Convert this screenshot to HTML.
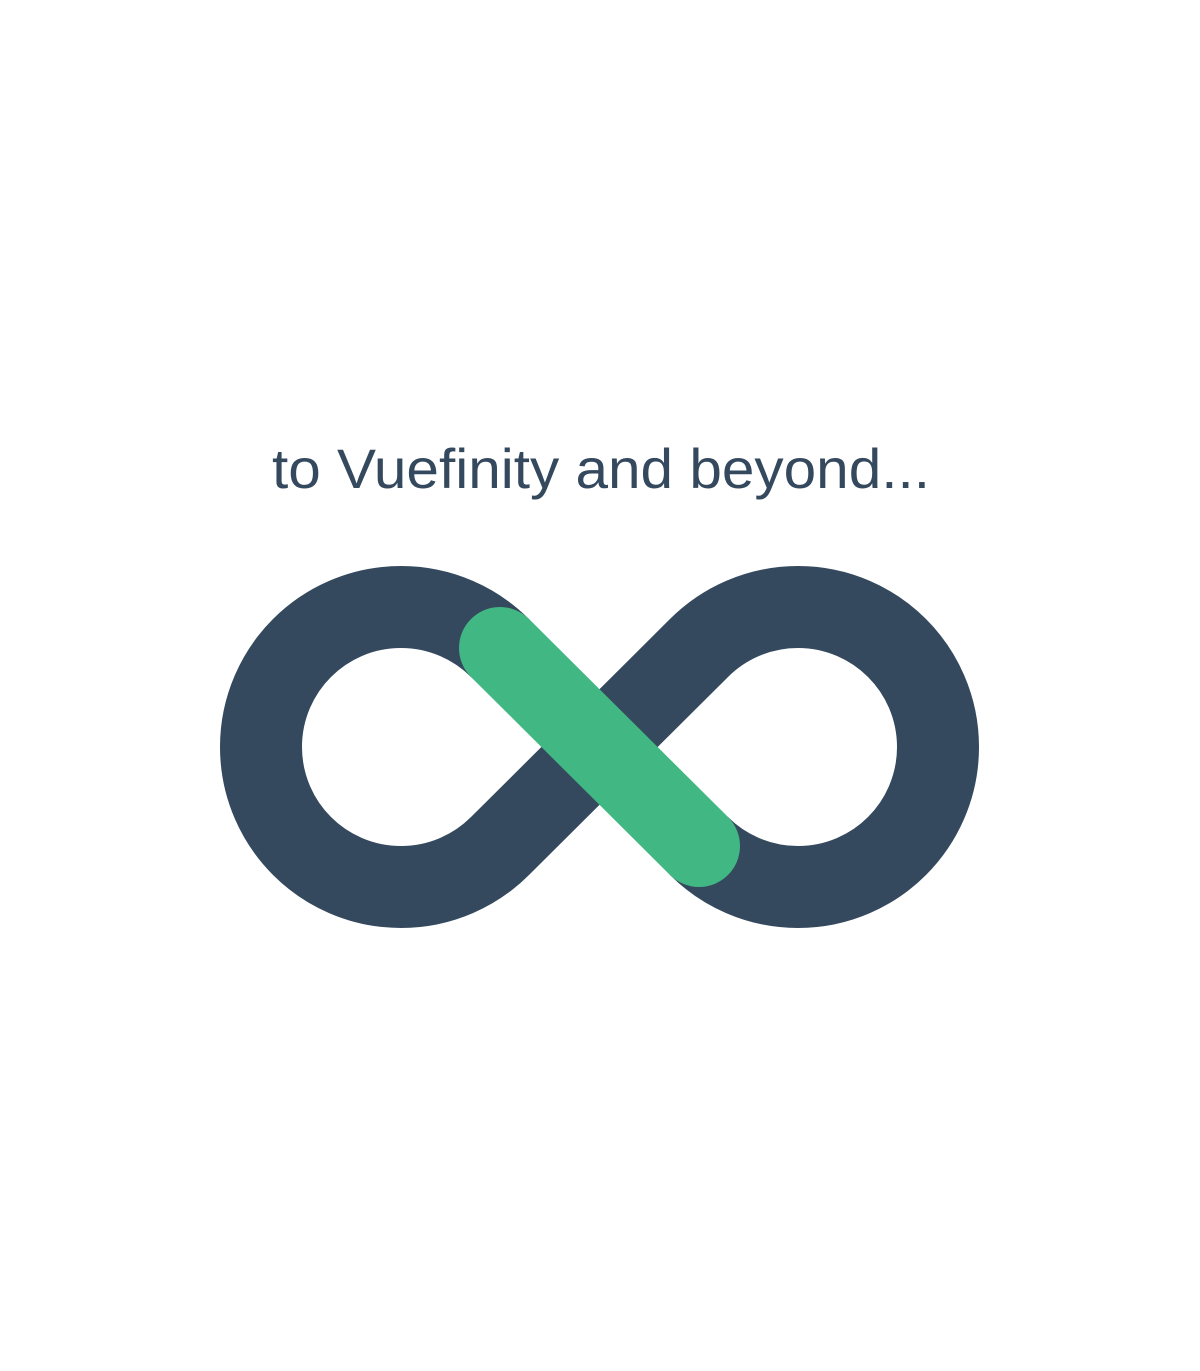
<!DOCTYPE html>
<html><head><meta charset="utf-8"><style>
html,body{margin:0;padding:0;background:#fff;width:1200px;height:1371px;overflow:hidden}
</style></head><body>
<svg width="1200" height="1371" viewBox="0 0 1200 1371" xmlns="http://www.w3.org/2000/svg">
<text x="272" y="488" font-family="Liberation Sans, sans-serif" font-size="56" fill="#35495e" textLength="658" lengthAdjust="spacingAndGlyphs">to Vuefinity and beyond...</text>
<path d="M500,648 A140,140 0 1 0 500,846 L699,648 A140,140 0 1 1 699,846" fill="none" stroke="#35495e" stroke-width="82" stroke-linejoin="round"/>
<line x1="500" y1="648" x2="699" y2="846" stroke="#41b883" stroke-width="82" stroke-linecap="round"/>
</svg>
</body></html>
